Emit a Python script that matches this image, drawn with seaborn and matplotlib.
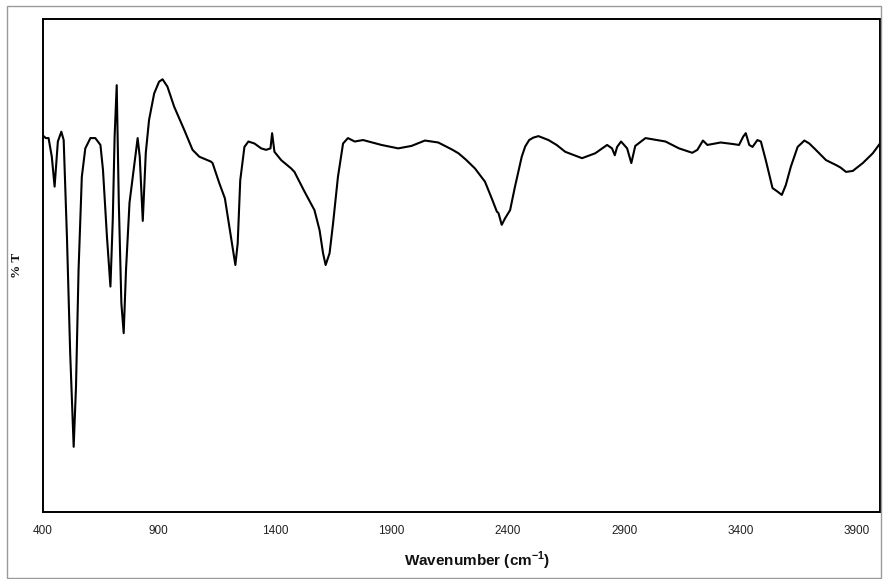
import matplotlib
matplotlib.use("Agg")
import matplotlib.pyplot as plt
import seaborn as sns
import pandas as pd
from matplotlib.patches import Rectangle

wavenumber = [400, 414, 426, 440, 452, 466, 481, 491, 505, 519, 534, 544, 555, 569, 584,
              606, 627, 649, 660, 677, 692, 702, 710, 719, 728, 739, 749, 759, 774, 792,
              809, 818, 831, 844, 858, 880, 901, 916, 937, 966, 1009, 1045, 1074, 1124,
              1131, 1160, 1184, 1203, 1229, 1239, 1250, 1268, 1285, 1311, 1340, 1361,
              1380, 1387, 1397, 1426, 1469, 1483, 1526, 1569, 1591, 1606, 1617, 1634,
              1649, 1670, 1692, 1713, 1742, 1778, 1857, 1929, 1986, 2044, 2101, 2159,
              2188, 2220, 2259, 2302, 2331, 2353, 2360, 2374, 2388, 2410, 2431, 2460, 2475,
              2492, 2510, 2532, 2575, 2610, 2647, 2719, 2776, 2827, 2848, 2860, 2870, 2887,
              2913, 2931, 2948, 2992, 3078, 3136, 3193, 3215, 3239, 3258, 3315, 3366,
              3394, 3412, 3423, 3438, 3452, 3473, 3488, 3509, 3538, 3559, 3578, 3595,
              3617, 3646, 3675, 3696, 3724, 3768, 3811, 3830, 3854, 3883, 3926, 3969, 4000]
transmittance = [76.5, 75.9, 75.9, 72.1, 66.0, 75.2, 77.2, 75.5, 55.8, 32.0, 12.9, 25.2,
                 49.0, 68.0, 73.8, 75.9, 75.9, 74.5, 69.4, 55.8, 45.6, 59.2, 76.2, 86.7,
                 62.7, 42.2, 36.1, 49.0, 62.7, 69.4, 75.9, 72.1, 59.0, 72.9, 79.6, 85.0,
                 87.4, 87.9, 86.4, 82.3, 77.6, 73.5, 72.1, 71.1, 70.8, 66.7, 63.6, 57.8,
                 50.0, 54.4, 67.3, 74.1, 75.2, 74.8, 73.8, 73.5, 73.8, 76.9, 73.1, 71.4,
                 69.7, 69.0, 65.0, 61.2, 57.1, 52.4, 50.0, 52.4, 58.5, 68.0, 74.8, 75.9,
                 75.2, 75.5, 74.5, 73.8, 74.3, 75.4, 75.0, 73.6,
                 72.8, 71.5, 69.7, 67.0, 63.6, 60.9, 60.6, 58.2, 59.5, 61.2, 66.0, 72.1, 74.2,
                 75.5, 76.0, 76.3, 75.5, 74.5, 73.1, 71.8, 72.8, 74.5, 73.8, 72.4, 74.1, 75.2,
                 73.8, 70.8, 74.3, 75.9, 75.2, 73.8, 72.9, 73.5, 75.4, 74.5, 75.0, 74.7,
                 74.5, 76.2, 76.9, 74.5, 74.1, 75.5, 75.2, 71.4, 65.7, 65.0, 64.3, 66.3,
                 70.1, 74.1, 75.4, 74.8, 73.5, 71.4, 70.4, 69.9, 69.0, 69.2, 70.8, 72.8, 74.8]
tick_values = [400, 900, 1400, 1900, 2400, 2900, 3400, 3900]
tick_labels = ["400", "900", "1400", "1900", "2400", "2900", "3400", "3900"]

sns.set_style("white")
plt.rcParams["font.family"] = ["Liberation Sans", "DejaVu Sans"]
plt.rcParams["mathtext.fontset"] = "custom"
plt.rcParams["mathtext.rm"] = "Liberation Sans"
plt.rcParams["mathtext.bf"] = "Liberation Sans:bold"

df = pd.DataFrame({"wn": wavenumber, "T": transmittance})

fig = plt.figure(figsize=(8.83, 5.79), dpi=100)
W, H = 883, 579
left, right, top, bottom = 42.5, 880, 19, 512
ax = fig.add_axes([left / W, 1 - bottom / H, (right - left) / W, (bottom - top) / H])

sns.lineplot(data=df, x="wn", y="T", ax=ax, color="black", linewidth=1.5,
             sort=False, estimator=None)

ax.set_xlim(400, 4000)
ax.set_ylim(-0.4, 100.2)
ax.set_yticks([])
ax.set_xticks(tick_values)
ax.set_xticklabels(tick_labels)
ax.tick_params(axis="x", direction="inout", length=5, width=1, color="black",
               labelsize=8.5, labelcolor="#222222", pad=7)
for s in ax.spines.values():
    s.set_color("black")
    s.set_linewidth(1.4)

ax.set_ylabel("")
ax.set_xlabel(r"Wavenumber (cm$^{\mathbf{-1}}$)", fontsize=11, fontweight="bold",
              color="#111111")
ax.xaxis.set_label_coords((477 - left) / (right - left), (bottom - 550) / (bottom - top))

fig.text(17 / W, 1 - 265 / H, "% T", rotation=90, ha="center", va="center",
         fontsize=9.5, fontweight="bold", family=["Liberation Serif", "DejaVu Serif"],
         color="#111111")

fig.patches.append(Rectangle((7 / W, 1.5 / H), (881 - 7) / W, (573 - 1.5) / H,
                             transform=fig.transFigure, fill=False,
                             edgecolor="#9a9a9a", linewidth=1))

fig.savefig("out.png", dpi=100)
